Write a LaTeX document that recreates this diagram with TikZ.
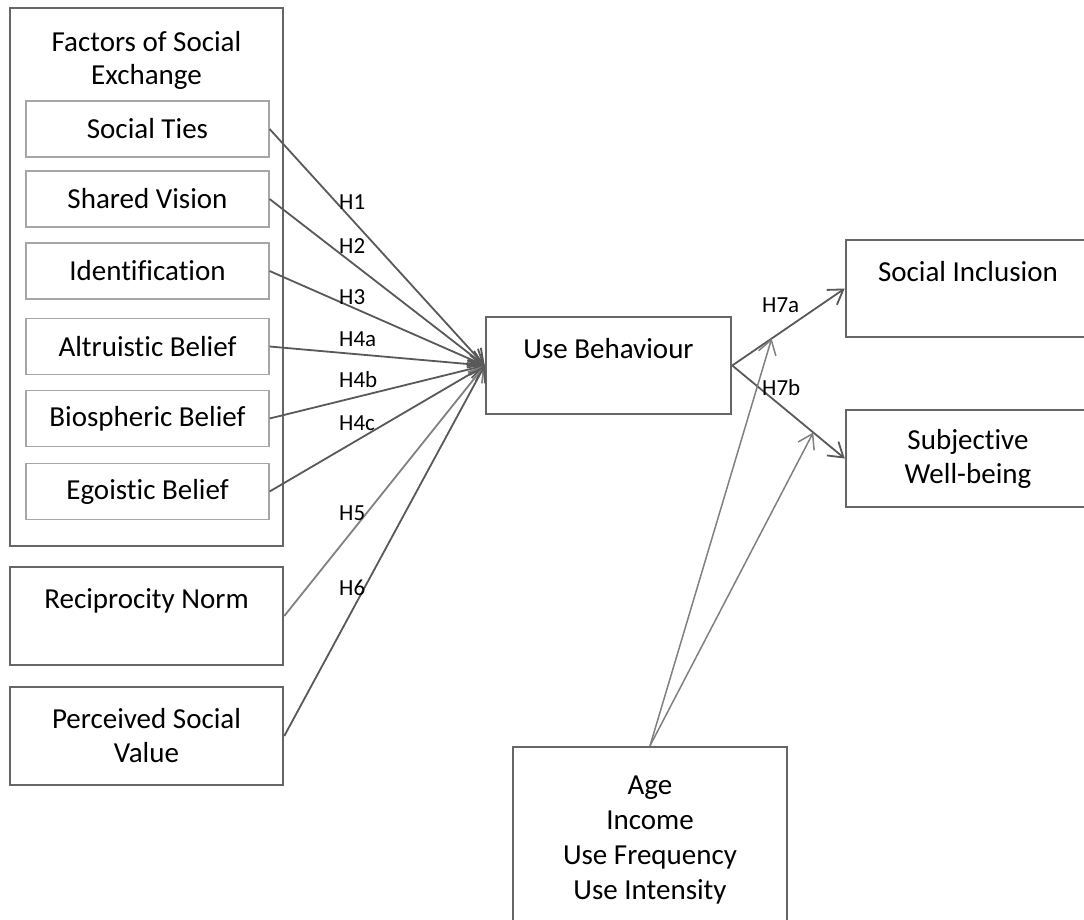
\documentclass[tikz,border=0pt]{standalone}
\usepackage{fontspec}
\setmainfont{Carlito}[Ligatures=NoCommon]
\usetikzlibrary{arrows.meta}
\definecolor{boxgray}{HTML}{666666}
\definecolor{innergray}{HTML}{A6A6A6}
\definecolor{linegray}{HTML}{595959}
\definecolor{softgray}{HTML}{808080}
\begin{document}
\begin{tikzpicture}[
		x=1pt,
		y=-1pt,
		box/.style={draw=boxgray, line width=2.5pt, rectangle, align=center, inner sep=0pt, font=\fontsize{29}{34}\selectfont},
		subbox/.style={draw=innergray, line width=1.2pt, rectangle, align=center, minimum width=243pt, minimum height=56pt, inner sep=0pt, font=\fontsize{29}{34}\selectfont},
		hyp/.style={-{Straight Barb[length=14pt,width=18pt]}, draw=linegray, line width=1.8pt},
		modarrow/.style={-{Straight Barb[length=14pt,width=18pt]}, draw=softgray, line width=1.5pt},
		hlabel/.style={anchor=west, inner sep=0pt, font=\fontsize{23}{27}\selectfont},
	]
		\useasboundingbox (0,0) rectangle (1084,919);
		\clip (0,0) rectangle (1084,919);
		\fill[white] (0,0) rectangle (1084,919);
		
		% left block
		\node[box, minimum width=273pt, minimum height=538pt] (factors) at (146.5,277) {};
		\node[anchor=north, align=center, inner sep=0pt, font=\fontsize{29}{33}\selectfont] (factorstitle) at (146.5,31) {Factors of Social\\Exchange};
		\foreach \y/\name/\txt in {129/ties/Social Ties, 199/vision/Shared Vision, 271/ident/Identification, 346.5/altru/Altruistic Belief, 418.5/bio/Biospheric Belief, 491.5/ego/Egoistic Belief}{
			\node[subbox] (\name) at (147.5,\y) {\txt};
		}
		\node[box, minimum width=273pt, minimum height=98pt] (recip) at (146.5,616) {Reciprocity Norm\\~};
		\node[box, minimum width=273pt, minimum height=98pt] (perc) at (146.5,736) {Perceived Social\\Value};
		
		% middle and right
		\node[box, minimum width=245pt, minimum height=97pt] (ub) at (608.5,365.5) {Use Behaviour\\~};
		\node[box, minimum width=244pt, minimum height=97pt] (si) at (968,288.5) {Social Inclusion\\~};
		\node[box, minimum width=244pt, minimum height=97pt] (sw) at (968,458.5) {Subjective\\Well-being};
		\node[box, minimum width=274pt, minimum height=187pt, font=\fontsize{29}{35}\selectfont] (age) at (650,840.5) {Age\\Income\\Use Frequency\\Use Intensity};
		
		% hypotheses
		\foreach \name in {ties,vision,ident,altru,bio,ego}{
			\draw[hyp] (\name.east) -- (ub.west);
		}
		\draw[hyp, draw=softgray] (recip.east) -- (ub.west);
		\draw[hyp] (perc.east) -- (ub.west);
		\draw[hyp] (ub.east) -- (si.west) coordinate[pos=0.35] (modsi);
		\draw[hyp] (ub.east) -- (sw.west) coordinate[pos=0.72] (modsw);
		\draw[modarrow] (age.north) -- (modsi);
		\draw[modarrow] (age.north) -- (modsw);
		
		\foreach \y/\name/\txt in {202/h1/H1, 246/h2/H2, 297/h3/H3, 339/h4a/H4a, 380/h4b/H4b, 423/h4c/H4c, 513/h5/H5, 588/h6/H6}{
			\node[hlabel] (\name) at (339,\y) {\txt};
		}
		\node[hlabel] (h7a) at (762,305) {H7a};
		\node[hlabel] (h7b) at (762,388) {H7b};
	\end{tikzpicture}
\end{document}
